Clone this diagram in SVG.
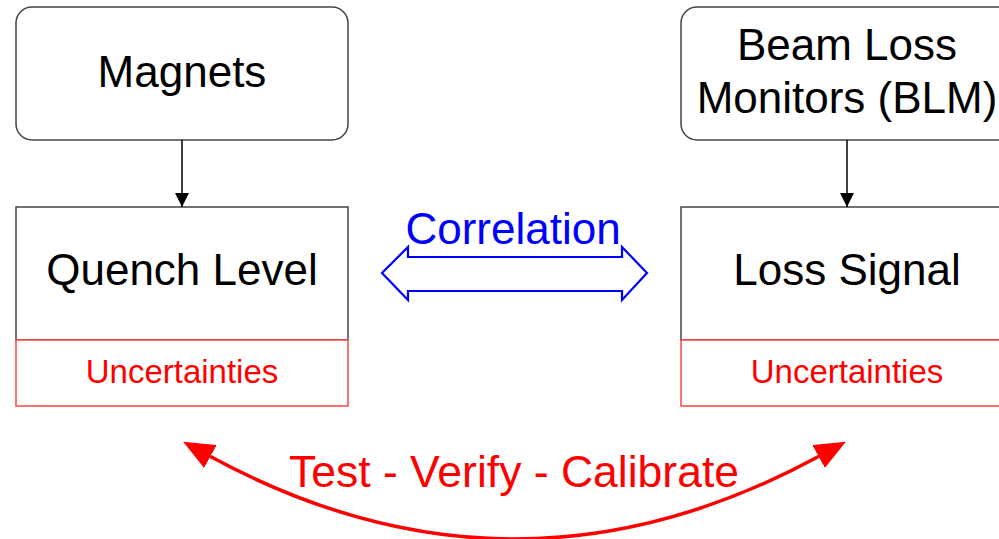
<svg xmlns="http://www.w3.org/2000/svg" width="999" height="539" viewBox="0 0 999 539">
<defs>
<style>
.box{fill:#fff;stroke:#444;stroke-width:1.5}
.unc{fill:#fff;stroke:#f44;stroke-width:1.5}
.big{font-family:"Liberation Sans",Arial,sans-serif;font-size:44px;fill:#000;text-anchor:middle}
.red{font-family:"Liberation Sans",Arial,sans-serif;font-size:33px;fill:#f00;text-anchor:middle}
.conn{stroke:#000;stroke-width:1.5;fill:none}
</style>
<marker id="ah" viewBox="0 0 10 10" refX="10" refY="5" markerWidth="14" markerHeight="14" markerUnits="userSpaceOnUse" orient="auto"><path d="M0,0 L10,5 L0,10 z" fill="#000"/></marker>
<marker id="rh" viewBox="0 0 31 26" refX="1" refY="13" markerWidth="31" markerHeight="26" markerUnits="userSpaceOnUse" orient="auto-start-reverse"><path d="M0,0 L31,13 L0,26 z" fill="#f00"/></marker>
</defs>
<rect width="999" height="539" fill="#fff"/>
<g id="magnets">
<rect class="box" x="16" y="7" width="332" height="133" rx="16"/>
<text class="big" x="182" y="87">Magnets</text>
</g>
<g id="quench">
<rect class="box" x="16" y="207" width="332" height="133"/>
<text class="big" x="182" y="285">Quench Level</text>
<rect class="unc" x="16" y="340" width="332" height="66"/>
<text class="red" x="182" y="383">Uncertainties</text>
</g>
<g id="blm">
<rect class="box" x="681" y="7" width="332" height="133" rx="16"/>
<text class="big" x="847" y="60">Beam Loss</text>
<text class="big" x="847" y="113">Monitors (BLM)</text>
</g>
<g id="loss">
<rect class="box" x="681" y="207" width="332" height="133"/>
<text class="big" x="847" y="285">Loss Signal</text>
<rect class="unc" x="681" y="340" width="332" height="66"/>
<text class="red" x="847" y="383">Uncertainties</text>
</g>
<g id="connectors">
<line class="conn" x1="182" y1="140" x2="182" y2="207" marker-end="url(#ah)"/>
<line class="conn" x1="847" y1="140" x2="847" y2="207" marker-end="url(#ah)"/>
<path d="M382,273 L408,247 L408,257 L622,257 L622,247 L647,273 L622,300 L622,291 L408,291 L408,300 Z" fill="#fff" stroke="#00f" stroke-width="2.2" stroke-linejoin="miter"/>
<text x="513" y="244" font-family="'Liberation Sans',Arial,sans-serif" font-size="44" fill="#00f" text-anchor="middle">Correlation</text>
<path d="M209.5,456 Q514.5,622 819.5,456" fill="none" stroke="#f00" stroke-width="3.5" marker-start="url(#rh)" marker-end="url(#rh)"/>
<text x="514" y="487" font-family="'Liberation Sans',Arial,sans-serif" font-size="44.5" fill="#f00" text-anchor="middle">Test - Verify - Calibrate</text>
</g>
</svg>
